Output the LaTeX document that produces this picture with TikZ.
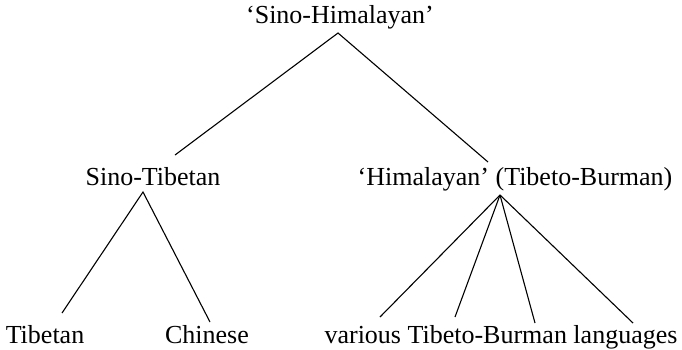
\documentclass[tikz,border=0pt]{standalone}
\usepackage{fontspec}
\setmainfont{Liberation Serif}

\begin{document}
\begin{tikzpicture}[x=1pt,y=-1pt,
    lang/.style={anchor=base,inner sep=0pt,font=\fontsize{26}{30}\selectfont},
    branch/.style={line width=1.1pt}]
    \useasboundingbox (0,0) rectangle (682,349);
    % labels
    \node[lang] (sh) at (340,23) {‘Sino-Himalayan’};
    \node[lang] (st) at (153,185) {Sino-Tibetan};
    \node[lang] (hi) at (515,185) {‘Himalayan’ (Tibeto-Burman)};
    \node[lang] (tib) at (45,343) {Tibetan};
    \node[lang] (chi) at (207,343) {Chinese};
    \node[lang] (tb) at (501,343) {various Tibeto-Burman languages};
    % apexes and line ends
    \coordinate (shtop) at (338,33);
    \coordinate (stend) at (175,155);
    \coordinate (hiend) at (488,162);
    \coordinate (sttop) at (143,192);
    \coordinate (tibend) at (62,313);
    \coordinate (chiend) at (210,322);
    \coordinate (hitop) at (500,195);
    \coordinate (tba) at (380,317);
    \coordinate (tbb) at (455,317);
    \coordinate (tbc) at (535,323);
    \coordinate (tbd) at (633,323);
    \draw[branch] (stend) -- (shtop) -- (hiend);
    \draw[branch] (tibend) -- (sttop) -- (chiend);
    \draw[branch] (hitop) -- (tba);
    \draw[branch] (hitop) -- (tbb);
    \draw[branch] (hitop) -- (tbc);
    \draw[branch] (hitop) -- (tbd);
\end{tikzpicture}
\end{document}
